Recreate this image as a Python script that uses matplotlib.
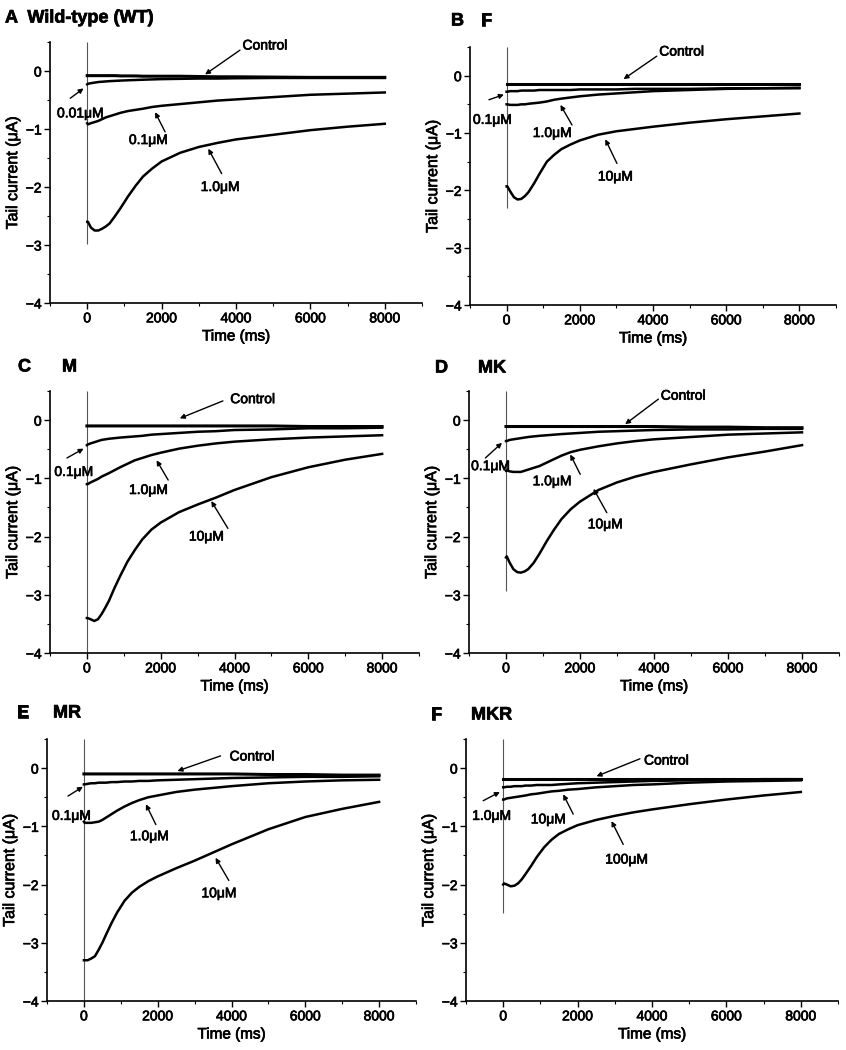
import numpy as np
import matplotlib
matplotlib.use("Agg")
import matplotlib.pyplot as plt
import matplotlib.patheffects as pe
from matplotlib.ticker import MultipleLocator

plt.rcParams["font.family"] = ["Liberation Sans", "DejaVu Sans"]

# ====== TIME GRID (ms) ======
time_ms = [0, 20, 100, 200, 300, 400, 500, 600, 750, 900, 1100, 1300, 1500,
           1750, 2000, 2500, 3000, 3500, 4000, 5000, 6000, 7000, 8000]

# ====== A: WILD-TYPE ======
wt_control = [-0.08, -0.08, -0.08, -0.08, -0.08, -0.08, -0.08, -0.08, -0.08, -0.085, -0.085, -0.085,
              -0.09, -0.09, -0.09, -0.09, -0.095, -0.10, -0.10, -0.105, -0.11, -0.11, -0.11]
wt_001 = [-0.23, -0.22, -0.21, -0.20, -0.19, -0.185, -0.18, -0.175, -0.17, -0.165, -0.16, -0.155,
          -0.15, -0.145, -0.14, -0.135, -0.13, -0.13, -0.125, -0.12, -0.12, -0.12, -0.12]
wt_01 = [-0.90, -0.92, -0.90, -0.88, -0.86, -0.83, -0.80, -0.78, -0.75, -0.72, -0.69, -0.67,
         -0.65, -0.62, -0.60, -0.57, -0.54, -0.51, -0.49, -0.45, -0.41, -0.39, -0.37]
wt_1 = [-2.60, -2.60, -2.70, -2.75, -2.75, -2.72, -2.68, -2.63, -2.50, -2.36, -2.16, -1.98,
        -1.82, -1.68, -1.56, -1.41, -1.31, -1.24, -1.18, -1.10, -1.02, -0.96, -0.91]

# ====== B: F ======
f_control = [-0.14] * 23
f_01 = [-0.28, -0.28, -0.27, -0.27, -0.27, -0.26, -0.26, -0.26, -0.26, -0.25, -0.25, -0.25,
        -0.25, -0.25, -0.24, -0.24, -0.24, -0.23, -0.23, -0.23, -0.22, -0.22, -0.22]
f_1 = [-0.50, -0.50, -0.51, -0.51, -0.51, -0.50, -0.50, -0.49, -0.48, -0.47, -0.45, -0.42,
       -0.40, -0.38, -0.36, -0.33, -0.31, -0.29, -0.27, -0.25, -0.23, -0.22, -0.21]
f_10 = [-1.93, -1.93, -2.02, -2.12, -2.16, -2.15, -2.10, -2.03, -1.88, -1.71, -1.50, -1.38,
        -1.28, -1.20, -1.13, -1.03, -0.97, -0.93, -0.89, -0.82, -0.76, -0.71, -0.66]

# ====== C: M ======
m_control = [-0.10] * 19 + [-0.10, -0.11, -0.11, -0.11]
m_01 = [-0.43, -0.42, -0.40, -0.38, -0.36, -0.34, -0.33, -0.32, -0.31, -0.30, -0.29, -0.28,
        -0.27, -0.25, -0.24, -0.22, -0.20, -0.19, -0.17, -0.16, -0.14, -0.14, -0.13]
m_1 = [-1.10, -1.10, -1.07, -1.04, -1.01, -0.97, -0.94, -0.91, -0.86, -0.81, -0.75, -0.69,
       -0.65, -0.60, -0.56, -0.49, -0.44, -0.40, -0.37, -0.33, -0.30, -0.28, -0.26]
m_10 = [-3.40, -3.40, -3.42, -3.45, -3.42, -3.33, -3.22, -3.10, -2.88, -2.68, -2.43, -2.23,
        -2.05, -1.88, -1.76, -1.58, -1.45, -1.33, -1.20, -0.98, -0.81, -0.68, -0.58]

# ====== D: MK ======
mk_control = [-0.11] * 19 + [-0.12, -0.12, -0.13, -0.13]
mk_01 = [-0.36, -0.36, -0.34, -0.33, -0.32, -0.31, -0.30, -0.29, -0.28, -0.27, -0.26, -0.25,
         -0.24, -0.23, -0.22, -0.20, -0.19, -0.18, -0.17, -0.16, -0.16, -0.15, -0.15]
mk_1 = [-0.87, -0.86, -0.88, -0.89, -0.89, -0.89, -0.87, -0.85, -0.82, -0.79, -0.73, -0.67,
        -0.61, -0.55, -0.51, -0.45, -0.40, -0.36, -0.33, -0.29, -0.25, -0.23, -0.21]
mk_10 = [-2.36, -2.34, -2.45, -2.56, -2.61, -2.62, -2.60, -2.56, -2.45, -2.30, -2.08, -1.88,
         -1.70, -1.53, -1.40, -1.20, -1.07, -0.97, -0.89, -0.76, -0.64, -0.54, -0.43]

# ====== E: MR ======
mr_control = [-0.10] * 19 + [-0.11, -0.11, -0.12, -0.12]
mr_01 = [-0.28, -0.28, -0.27, -0.26, -0.26, -0.25, -0.25, -0.25, -0.24, -0.24, -0.23, -0.23,
         -0.22, -0.22, -0.21, -0.20, -0.19, -0.18, -0.17, -0.16, -0.15, -0.15, -0.14]
mr_1 = [-0.92, -0.94, -0.94, -0.94, -0.93, -0.92, -0.89, -0.85, -0.79, -0.73, -0.66, -0.60,
        -0.55, -0.50, -0.47, -0.41, -0.37, -0.34, -0.31, -0.26, -0.23, -0.21, -0.20]
mr_10 = [-3.30, -3.30, -3.30, -3.27, -3.23, -3.12, -3.00, -2.86, -2.66, -2.48, -2.28, -2.14,
         -2.04, -1.94, -1.86, -1.72, -1.59, -1.45, -1.31, -1.05, -0.84, -0.70, -0.58]

# ====== F: MKR ======
mkr_control = [-0.18] * 23
mkr_1 = [-0.33, -0.33, -0.32, -0.32, -0.31, -0.31, -0.31, -0.30, -0.30, -0.29, -0.29, -0.29,
         -0.28, -0.27, -0.26, -0.25, -0.24, -0.23, -0.22, -0.21, -0.20, -0.19, -0.19]
mkr_10 = [-0.54, -0.54, -0.52, -0.51, -0.50, -0.49, -0.48, -0.47, -0.45, -0.44, -0.42, -0.40,
          -0.39, -0.37, -0.36, -0.33, -0.31, -0.29, -0.28, -0.25, -0.23, -0.22, -0.21]
mkr_100 = [-2.00, -1.98, -2.00, -2.03, -2.02, -1.98, -1.91, -1.82, -1.68, -1.53, -1.36, -1.23,
           -1.13, -1.05, -0.98, -0.89, -0.82, -0.76, -0.71, -0.62, -0.54, -0.47, -0.41]

# capacitive spike at t=0 (lowest value reached)
spike_low = [-2.98, -2.31, -4.0, -2.94, -4.0, -2.49]

panel_letters = ["A", "B", "C", "D", "E", "F"]
panel_names = ["Wild-type (WT)", "F", "M", "MK", "MR", "MKR"]

mu = "\u03bc"
panels = [
    dict(traces=[wt_control, wt_001, wt_01, wt_1],
         notes=[("Control", (4780, 0.44), (4107, 0.36), (3168, -0.06)),
                ("0.01" + mu + "M", (-188, -0.73), (-456, -0.47), (-97, -0.30)),
                ("0.1" + mu + "M", (1640, -1.19), (2094, -1.05), (1825, -0.71)),
                ("1.0" + mu + "M", (3570, -2.0), (3615, -1.77), (3255, -1.34))]),
    dict(traces=[f_control, f_01, f_1, f_10],
         notes=[("Control", (4785, 0.42), (4103, 0.34), (3196, -0.06)),
                ("0.1" + mu + "M", (-392, -0.77), (-482, -0.42), (-74, -0.33)),
                ("1.0" + mu + "M", (1243, -1.0), (1787, -0.86), (1471, -0.51)),
                ("10" + mu + "M", (2970, -1.76), (3014, -1.53), (2697, -1.11))]),
    dict(traces=[m_control, m_01, m_1, m_10],
         notes=[("Control", (4495, 0.36), (3686, 0.33), (2517, 0.03)),
                ("0.1" + mu + "M", (-359, -0.89), (-539, -0.65), (-89, -0.49)),
                ("1.0" + mu + "M", (1664, -1.2), (2203, -1.03), (1888, -0.69)),
                ("10" + mu + "M", (3236, -2.0), (3821, -1.86), (3371, -1.39))]),
    dict(traces=[mk_control, mk_01, mk_1, mk_10],
         notes=[("Control", (4792, 0.42), (4118, 0.36), (3220, -0.07)),
                ("0.1" + mu + "M", (-421, -0.79), (-556, -0.65), (-108, -0.39)),
                ("1.0" + mu + "M", (1241, -1.05), (2006, -0.93), (1737, -0.59)),
                ("10" + mu + "M", (2680, -1.79), (2724, -1.59), (2365, -1.18))]),
    dict(traces=[mr_control, mr_01, mr_1, mr_10],
         notes=[("Control", (4558, 0.2), (3703, 0.21), (2535, -0.05)),
                ("0.1" + mu + "M", (-342, -0.82), (-431, -0.48), (-27, -0.32)),
                ("1.0" + mu + "M", (1770, -1.17), (1950, -0.97), (1680, -0.62)),
                ("10" + mu + "M", (3657, -2.15), (3927, -1.93), (3568, -1.54))]),
    dict(traces=[mkr_control, mkr_1, mkr_10, mkr_100],
         notes=[("Control", (4390, 0.13), (3675, 0.16), (2508, -0.14)),
                ("1.0" + mu + "M", (-314, -0.82), (-538, -0.56), (-89, -0.41)),
                ("10" + mu + "M", (1210, -0.88), (1882, -0.79), (1613, -0.45)),
                ("100" + mu + "M", (3315, -1.57), (3226, -1.31), (2911, -0.91))]),
]

# ====== LAYOUT (pixels of the 846x1050 figure) ======
W, H = 846, 1050
boxes = [(50, 42, 422, 303), (470, 47, 836, 305),
         (50, 391, 419, 653), (469, 391, 839, 653),
         (47, 739, 416, 1001), (466, 739, 838, 1001)]
title_pos = [(5, 18, None), (451, 21, 481), (18, 367, 62), (435, 368, 478), (17, 713, 53), (431, 715, 471)]

# slight stroke so the text looks as heavy as the printed figure
heavy = [pe.withStroke(linewidth=0.5, foreground="black")]

fig = plt.figure(figsize=(W / 100, H / 100), dpi=100)

for i, p in enumerate(panels):
    x0, y0, x1, y1 = boxes[i]
    ax = fig.add_axes([x0 / W, 1 - y1 / H, (x1 - x0) / W, (y1 - y0) / H])

    ax.vlines(0, spike_low[i], 0.5, color="#555555", lw=0.8, zorder=1)
    for j, tr in enumerate(p["traces"]):
        ax.plot(time_ms, tr, color="black", lw=2.2 if j == 0 else 1.8, zorder=2)

    for label, txt, tail, head in p["notes"]:
        ax.annotate("", xy=head, xytext=tail,
                    arrowprops=dict(arrowstyle="-|>", color="black", lw=1.0,
                                    mutation_scale=7, shrinkA=0, shrinkB=0))
        ax.text(txt[0], txt[1], label, ha="center", va="center", fontsize=10,
                path_effects=heavy)

    ax.set_xlim(-1000, 9000)
    ax.set_ylim(-4, 0.5)
    ax.xaxis.set_major_locator(MultipleLocator(2000))
    ax.xaxis.set_minor_locator(MultipleLocator(1000))
    ax.yaxis.set_major_locator(MultipleLocator(1))
    ax.yaxis.set_minor_locator(MultipleLocator(0.5))
    ax.set_xticks([0, 2000, 4000, 6000, 8000])
    ax.spines["top"].set_visible(False)
    ax.spines["right"].set_visible(False)
    for s in ("left", "bottom"):
        ax.spines[s].set_linewidth(1.2)
    ax.tick_params(which="major", direction="out", length=4, width=1.0, labelsize=10, pad=2)
    ax.tick_params(which="minor", direction="out", length=2.5, width=0.8)
    for lab in ax.get_xticklabels() + ax.get_yticklabels():
        lab.set_path_effects(heavy)
    ax.set_xlabel("Time (ms)", fontsize=11, labelpad=3, path_effects=heavy)
    ax.set_ylabel("Tail current (" + mu + "A)", fontsize=11.5, labelpad=4, path_effects=heavy)

    tx, ty, nx = title_pos[i]
    if nx is None:
        fig.text(tx / W, 1 - ty / H, panel_letters[i] + "  " + panel_names[i],
                 fontsize=13, fontweight="bold", va="center", ha="left", path_effects=heavy)
    else:
        fig.text(tx / W, 1 - ty / H, panel_letters[i], fontsize=13,
                 fontweight="bold", va="center", ha="left", path_effects=heavy)
        fig.text(nx / W, 1 - ty / H, panel_names[i], fontsize=13,
                 fontweight="bold", va="center", ha="left", path_effects=heavy)

plt.savefig("out.png", dpi=100)
plt.close()
